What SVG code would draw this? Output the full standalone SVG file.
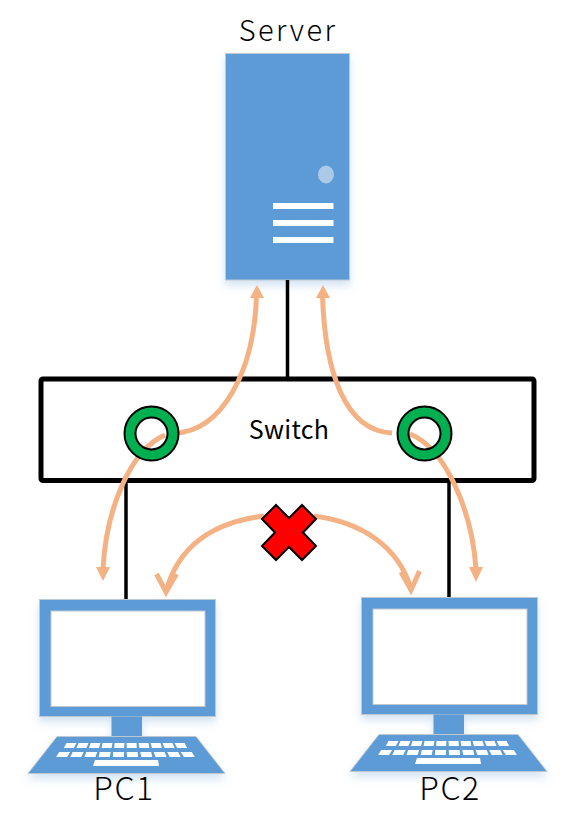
<svg xmlns="http://www.w3.org/2000/svg" xmlns:xlink="http://www.w3.org/1999/xlink" width="578" height="832" viewBox="0 0 578 832">
<style>
.dev{fill:#5B9BD5;stroke:#BFC7CF;stroke-width:1}
.wht{fill:#fff}
.scr{fill:#fff;stroke:#BFC7CF;stroke-width:1}
.bk{stroke:#000;fill:none}
.flow{stroke:#F4B183;stroke-width:5;fill:none}
.head{fill:#F4B183;stroke:none}
.lbl{font-family:"Noto Sans CJK JP","Noto Sans",sans-serif;font-weight:300;fill:#000}
.ring{fill:#00B050;fill-rule:evenodd;stroke:#000;stroke-width:2}
</style>
<defs>
<filter id="sh" x="-15%" y="-15%" width="130%" height="130%">
<feDropShadow dx="0" dy="5" stdDeviation="4" flood-color="#5B9BD5" flood-opacity="0.28"/>
</filter>
<g id="pcShape">
<g filter="url(#sh)">
<rect class="dev" x="39.5" y="599.5" width="176" height="117"/>
<rect class="dev" x="111.5" y="716.5" width="30.5" height="20" style="stroke:none"/>
<polygon class="dev" points="57,736.5 196,736.5 225,773.5 28,773.5"/>
</g>
<rect class="scr" x="51" y="611" width="154" height="95.5"/>
<g class="wht">
<polygon points="66.5,743 76.5,743 73.8,748 63.8,748"/>
<polygon points="78.5,743 88.5,743 86.4,748 76.4,748"/>
<polygon points="90.5,743 100.5,743 99,748 89,748"/>
<polygon points="102.5,743 112.5,743 111.6,748 101.6,748"/>
<polygon points="114.5,743 124.5,743 124.2,748 114.2,748"/>
<polygon points="126.5,743 136.5,743 136.8,748 126.8,748"/>
<polygon points="138.5,743 148.5,743 149.4,748 139.4,748"/>
<polygon points="150.5,743 160.5,743 162,748 152,748"/>
<polygon points="162.5,743 172.5,743 174.6,748 164.6,748"/>
<polygon points="174.5,743 184.5,743 187.2,748 177.2,748"/>
<polygon points="59.2,752 70.2,752 67.1,757 56.1,757"/>
<polygon points="72.7,752 83.7,752 81.3,757 70.3,757"/>
<polygon points="86.2,752 97.2,752 95.5,757 84.5,757"/>
<polygon points="99.7,752 110.7,752 109.7,757 98.7,757"/>
<polygon points="113.2,752 124.2,752 123.9,757 112.9,757"/>
<polygon points="126.7,752 137.7,752 138.1,757 127.1,757"/>
<polygon points="140.2,752 151.2,752 152.3,757 141.3,757"/>
<polygon points="153.7,752 164.7,752 166.5,757 155.5,757"/>
<polygon points="167.2,752 178.2,752 180.7,757 169.7,757"/>
<polygon points="180.7,752 191.7,752 194.9,757 183.9,757"/>
<polygon points="95,760 158,760 159,766 93,766"/>
</g>
</g>
</defs>

<g id="server">
<rect class="dev" x="225.5" y="53.5" width="124" height="226.5" filter="url(#sh)"/>
<ellipse cx="326" cy="174.5" rx="8" ry="9" fill="#ADC9E8"/>
<rect class="wht" x="273" y="203" width="60.5" height="6"/>
<rect class="wht" x="273" y="220" width="60.5" height="6"/>
<rect class="wht" x="273" y="237" width="60.5" height="6"/>
<text class="lbl" x="288" y="41" font-size="29" text-anchor="middle" letter-spacing="2.4">Server</text>
</g>

<g id="pc1">
<use href="#pcShape" xlink:href="#pcShape"/>
<text class="lbl" x="124" y="800" font-size="32" text-anchor="middle" letter-spacing="1.5">PC1</text>
</g>
<g id="pc2">
<use href="#pcShape" xlink:href="#pcShape" transform="translate(322,-2)"/>
<text class="lbl" x="450" y="800" font-size="32" text-anchor="middle" letter-spacing="1.5">PC2</text>
</g>

<g id="connectors">
<path class="bk" stroke-width="3.500" d="M287.5 280V379"/>
<path class="bk" stroke-width="3.500" d="M126 480V599"/>
<path class="bk" stroke-width="3.500" d="M449 480V597"/>
</g>

<g id="switch">
<rect x="41" y="379" width="493" height="101.500" rx="2" fill="none" stroke="#000" stroke-width="5"/>
<text x="289" y="439" font-family="'Noto Sans CJK JP','Noto Sans',sans-serif" font-size="25" font-weight="400" letter-spacing="0.3" text-anchor="middle" fill="#000">Switch</text>
</g>

<g id="flows">
<path class="flow" d="M175 433C222 431 254 372 256.500 296"/>
<polygon class="head" points="257,285 250,298 264,298"/>
<path class="flow" d="M165 435C130 450 106 510 103 569"/>
<polygon class="head" points="103,581 96,567 110,567"/>
<path class="flow" d="M392 433C345 431 325 372 322.500 296"/>
<polygon class="head" points="323,285 316,298 330,298"/>
<path class="flow" d="M410 434C445 448 472 510 476 569"/>
<polygon class="head" points="476,582 469,567 483,567"/>
<path class="flow" d="M264 516C215 522 178 545 166 592"/>
<path class="flow" d="M156.500 574L166 592L176.500 574"/>
<path class="flow" d="M314 516C360 522 398 545 411 589"/>
<path class="flow" d="M401 572L411 590L419.500 571"/>
</g>

<g id="ring1">
<path class="ring" d="M124.500 433.500a27 27 0 1 0 54 0a27 27 0 1 0-54 0ZM135.500 433.500a16 16 0 1 1 32 0a16 16 0 1 1-32 0Z"/>
</g>
<g id="ring2">
<path class="ring" d="M397.500 433.500a27 27 0 1 0 54 0a27 27 0 1 0-54 0ZM408.500 433.500a16 16 0 1 1 32 0a16 16 0 1 1-32 0Z"/>
</g>

<g id="cross">
<polygon points="276,505 289,518 302,505 316,519 303,532.500 316,546 302,560 289,547 276,560 262,546 275,532.500 262,519" fill="#FF0000" stroke="#000" stroke-width="2"/>
</g>
</svg>
